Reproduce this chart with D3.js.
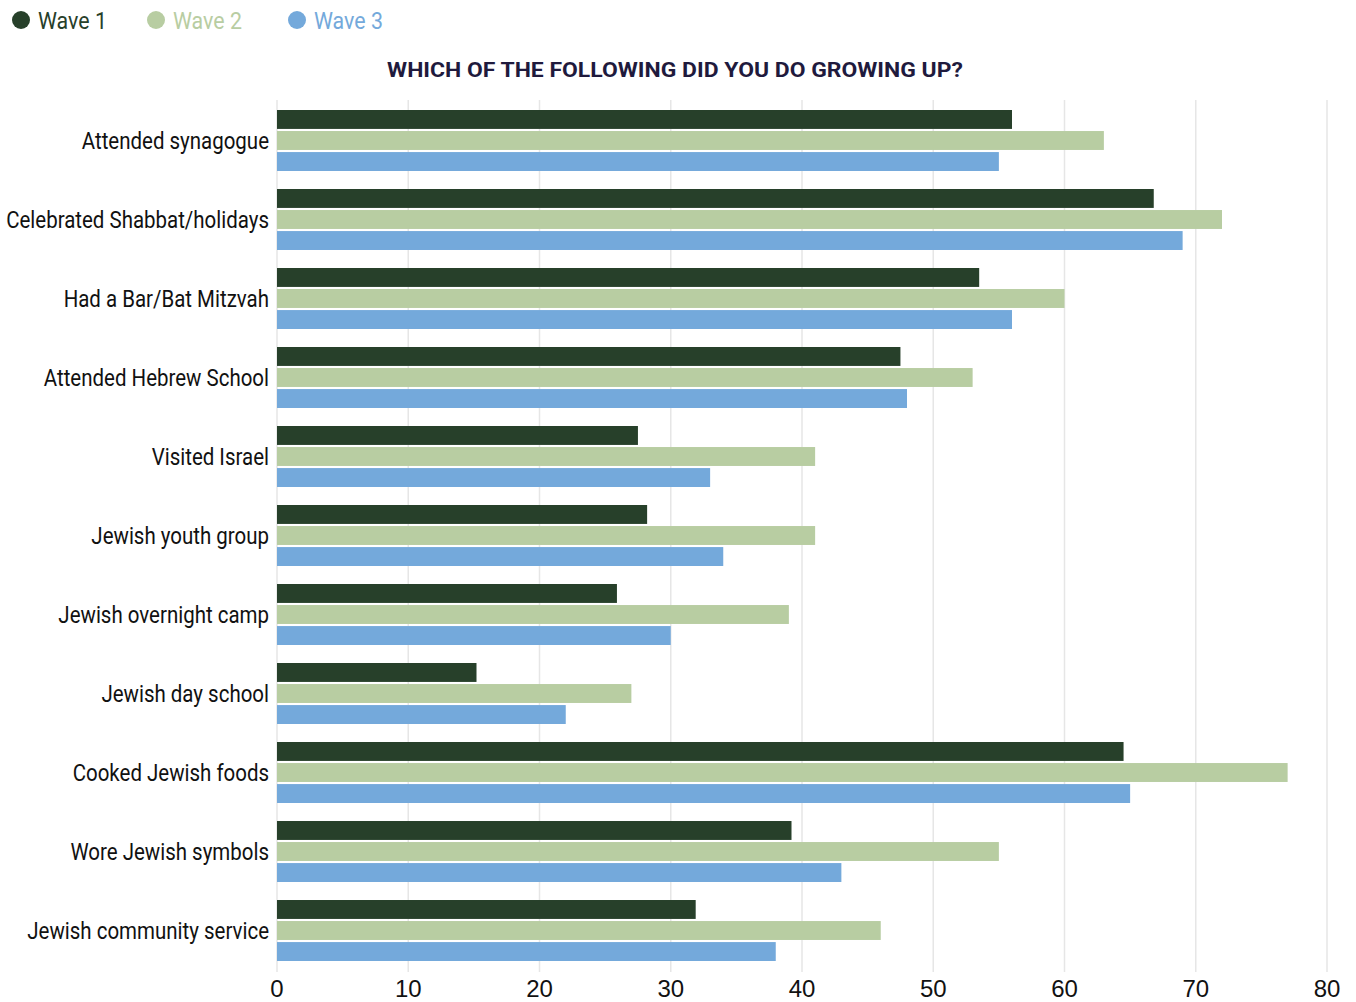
<!DOCTYPE html>
<html>
<head>
<meta charset="utf-8">
<script src="https://cdn.jsdelivr.net/npm/d3@7"></script>
<style>
  body { margin: 0; background: #fff; }
</style>
</head>
<body>
<div id="chart"></div>
<script>
// Data
const categories = [
  "Attended synagogue",
  "Celebrated Shabbat/holidays",
  "Had a Bar/Bat Mitzvah",
  "Attended Hebrew School",
  "Visited Israel",
  "Jewish youth group",
  "Jewish overnight camp",
  "Jewish day school",
  "Cooked Jewish foods",
  "Wore Jewish symbols",
  "Jewish community service"
];
const seriesNames = ["Wave 1", "Wave 2", "Wave 3"];
const wave1 = [56, 66.8, 53.5, 47.5, 27.5, 28.2, 25.9, 15.2, 64.5, 39.2, 31.9];
const wave2 = [63, 72, 60, 53, 41, 41, 39, 27, 77, 55, 46];
const wave3 = [55, 69, 56, 48, 33, 34, 30, 22, 65, 43, 38];
const xTicks = [0, 10, 20, 30, 40, 50, 60, 70, 80];
const colors = ["#27402a", "#b8cda2", "#74a9db"];

const width = 1356, height = 1002;
const font = "Roboto, 'Noto Sans', sans-serif";
const svg = d3.select("#chart").append("svg")
  .attr("width", width)
  .attr("height", height);

const x = d3.scaleLinear().domain([0, 80]).range([277, 1327]);
const y = d3.scaleBand().domain(categories).range([110, 961]).paddingInner(0.228).paddingOuter(0);
const ySub = d3.scaleBand().domain(seriesNames).range([0, y.bandwidth()]).paddingInner(0.1);

// squeeze text horizontally to get a condensed look (no condensed font installed)
function squeeze(sel, k) {
  sel.each(function () {
    const t = d3.select(this);
    const tx = +t.attr("data-x"), ty = +t.attr("data-y");
    t.attr("transform", `translate(${tx},${ty}) scale(${k},1)`);
  });
}

// gridlines
svg.append("g")
  .selectAll("line")
  .data(xTicks)
  .enter().append("line")
  .attr("x1", d => x(d))
  .attr("x2", d => x(d))
  .attr("y1", 100)
  .attr("y2", 972)
  .attr("stroke", "#e6e6e6")
  .attr("stroke-width", 1.5);

// bars
const rows = categories.map((c, i) => ({ cat: c, vals: [wave1[i], wave2[i], wave3[i]] }));
const groups = svg.append("g")
  .selectAll("g")
  .data(rows)
  .enter().append("g")
  .attr("transform", d => `translate(0,${y(d.cat)})`);

groups.selectAll("rect")
  .data(d => d.vals.map((v, k) => ({ v: v, s: seriesNames[k], k: k })))
  .enter().append("rect")
  .attr("x", x(0))
  .attr("y", d => ySub(d.s))
  .attr("width", d => x(d.v) - x(0))
  .attr("height", ySub.bandwidth())
  .attr("fill", d => colors[d.k]);

// category labels
const labels = svg.append("g")
  .selectAll("text")
  .data(categories)
  .enter().append("text")
  .attr("data-x", 269)
  .attr("data-y", d => y(d) + y.bandwidth() / 2 + 8.5)
  .attr("text-anchor", "end")
  .attr("font-family", font)
  .attr("font-size", 24)
  .attr("fill", "#111")
  .text(d => d);
const longest = d3.max(labels.nodes(), n => n.getComputedTextLength());
squeeze(labels, 263 / longest);

// x axis tick labels
svg.append("g")
  .selectAll("text")
  .data(xTicks)
  .enter().append("text")
  .attr("x", d => x(d))
  .attr("y", 997)
  .attr("text-anchor", "middle")
  .attr("font-family", "'Liberation Sans', Arial, sans-serif")
  .attr("font-size", 24)
  .attr("fill", "#111")
  .text(d => d);

// title
const title = svg.append("text")
  .attr("data-x", 675)
  .attr("data-y", 77)
  .attr("text-anchor", "middle")
  .attr("font-family", font)
  .attr("font-size", 21)
  .attr("font-weight", "bold")
  .attr("fill", "#1f1a3d")
  .text("WHICH OF THE FOLLOWING DID YOU DO GROWING UP?");
squeeze(title, 576 / title.node().getComputedTextLength());

// legend
const legendX = [21, 156, 297];
const legend = svg.append("g")
  .selectAll("g")
  .data(seriesNames)
  .enter().append("g")
  .attr("transform", (d, i) => `translate(${legendX[i]},20)`);
legend.append("circle")
  .attr("r", 9)
  .attr("fill", (d, i) => colors[i]);
const legendText = legend.append("text")
  .attr("data-x", 17)
  .attr("data-y", 8.5)
  .attr("font-family", font)
  .attr("font-size", 24)
  .attr("fill", (d, i) => colors[i])
  .text(d => d);
squeeze(legendText, 69 / legendText.node().getComputedTextLength());
</script>
</body>
</html>
